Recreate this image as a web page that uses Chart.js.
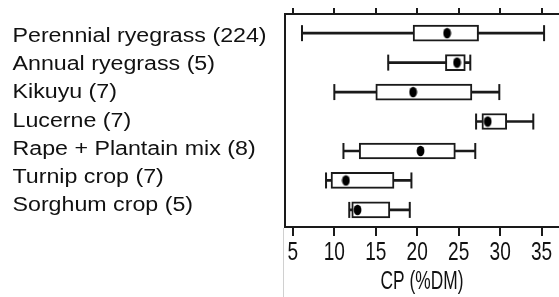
<!DOCTYPE html>
<html>
<head>
<meta charset="utf-8">
<script src="https://cdn.jsdelivr.net/npm/chart.js@4"></script>
<style>
  html, body { margin: 0; padding: 0; background: #fff; }
  #wrap { width: 559px; height: 297px; }
</style>
</head>
<body>
<div id="wrap"><canvas id="c" width="559" height="297"></canvas></div>
<script>
// ---- data ----
const categories = ['Perennial ryegrass (224)', 'Annual ryegrass (5)', 'Kikuyu (7)', 'Lucerne (7)', 'Rape + Plantain mix (8)', 'Turnip crop (7)', 'Sorghum crop (5)'];
const mins    = [6.1, 16.5, 10.0, 27.1, 11.1, 9.0, 11.8];
const q1s     = [19.5, 23.4, 15.0, 27.8, 13.0, 9.6, 12.1];
const medians = [23.6, 24.8, 19.5, 28.5, 20.4, 11.4, 12.8];
const q3s     = [27.4, 25.8, 26.6, 30.8, 24.6, 17.2, 16.7];
const maxs    = [35.3, 26.4, 29.9, 34.0, 27.0, 19.3, 19.1];
const xTicks  = [5, 10, 15, 20, 25, 30, 35];
const axisTitle = 'CP (%DM)';

// ---- styling ----
const INK = '#1a1a1a';
const dot = document.createElement('canvas');
dot.width = 9; dot.height = 12;
{
  const d = dot.getContext('2d');
  d.fillStyle = '#000';
  d.beginPath();
  d.ellipse(4.5, 6, 3.9, 5.3, 0, 0, Math.PI * 2);
  d.fill();
}

const idx = categories.map((_, i) => i);

const textPlugin = {
  id: 'texts',
  afterDraw(chart) {
    const ctx = chart.ctx;
    const xs = chart.scales.x;
    const top = chart.scales.x2.bottom;
    const ca = chart.chartArea;
    ctx.save();
    // top tick marks (mirror of bottom axis ticks)
    ctx.fillStyle = INK;
    xTicks.forEach(v => {
      const px = Math.round(xs.getPixelForValue(v));
      ctx.fillRect(px - 1, top - 6, 2, 6);
    });
    ctx.fillStyle = '#111';
    // category labels
    ctx.font = '19.5px "Liberation Sans", Arial, sans-serif';
    ctx.textAlign = 'left';
    ctx.textBaseline = 'alphabetic';
    categories.forEach((t, i) => {
      ctx.save();
      ctx.translate(12.5, 42.3 + 28.07 * i);
      ctx.scale(1.19, 1);
      ctx.fillText(t, 0, 0);
      ctx.restore();
    });
    // tick labels
    ctx.font = '26.5px "Liberation Sans", Arial, sans-serif';
    ctx.textAlign = 'center';
    xTicks.forEach(v => {
      ctx.save();
      ctx.translate(xs.getPixelForValue(v), 260);
      ctx.scale(0.72, 1);
      ctx.fillText(String(v), 0, 0);
      ctx.restore();
    });
    // axis title
    ctx.font = '25.5px "Liberation Sans", Arial, sans-serif';
    ctx.save();
    ctx.translate((ca.left + ca.right) / 2, 288.5);
    ctx.scale(0.68, 1);
    ctx.fillText(axisTitle, 0, 0);
    ctx.restore();
    // faint edge line below axis
    ctx.strokeStyle = '#d0d0d0';
    ctx.lineWidth = 1;
    ctx.beginPath();
    ctx.moveTo(ca.left - 1.5, ca.bottom + 1);
    ctx.lineTo(ca.left - 1.5, chart.height);
    ctx.stroke();
    ctx.restore();
  }
};

const setTicks = (scale) => { scale.ticks = xTicks.map(v => ({ value: v })); };

new Chart(document.getElementById('c'), {
  type: 'bar',
  data: {
    datasets: [
      {
        type: 'bar', indexAxis: 'y', grouped: false, order: 4,
        data: idx.map(i => ({ y: i, x: [mins[i], maxs[i]] })),
        backgroundColor: INK, borderWidth: 0, barThickness: 2
      },
      {
        type: 'bar', indexAxis: 'y', grouped: false, order: 3,
        data: idx.map(i => ({ y: i, x: [q1s[i], q3s[i]] })),
        backgroundColor: '#fff', borderColor: INK, borderWidth: 2, borderSkipped: false, barThickness: 16
      },
      {
        type: 'scatter', order: 2,
        data: idx.flatMap(i => [{ x: mins[i], y: i }, { x: maxs[i], y: i }]),
        pointStyle: 'line', rotation: 90, radius: 8, borderColor: INK, borderWidth: 2, backgroundColor: INK
      },
      {
        type: 'scatter', order: 1,
        data: idx.map(i => ({ x: medians[i], y: i })),
        pointStyle: dot, radius: 5
      }
    ]
  },
  options: {
    responsive: false,
    animation: false,
    events: [],
    layout: { autoPadding: false, padding: { left: 284, right: 0, top: 0, bottom: 0 } },
    plugins: { legend: { display: false }, tooltip: { enabled: false } },
    scales: {
      x: {
        type: 'linear', position: 'bottom', min: 4.05, max: 37.1, offset: false,
        afterBuildTicks: setTicks,
        afterFit: (s) => { s.height = 70; s.paddingRight = 0; s.paddingLeft = 0; },
        ticks: { display: false },
        grid: { display: true, offset: false, drawOnChartArea: false, drawTicks: true, tickLength: 9, color: INK, lineWidth: 2 },
        border: { display: true, color: INK, width: 2 }
      },
      x2: {
        type: 'linear', position: 'top', axis: 'x', min: 4.05, max: 37.1, offset: false,
        afterBuildTicks: setTicks,
        afterFit: (s) => { s.height = 14; s.paddingRight = 0; s.paddingLeft = 0; },
        ticks: { display: false },
        grid: { display: false },
        border: { display: true, color: INK, width: 2 }
      },
      y: {
        type: 'linear', position: 'left', min: -0.65, max: 6.58, reverse: true, offset: false,
        afterFit: (s) => { s.width = 1; s.paddingTop = 0; s.paddingBottom = 0; },
        ticks: { display: false },
        grid: { display: false, offset: false },
        border: { display: true, color: INK, width: 2 }
      }
    }
  },
  plugins: [textPlugin]
});
</script>
</body>
</html>
